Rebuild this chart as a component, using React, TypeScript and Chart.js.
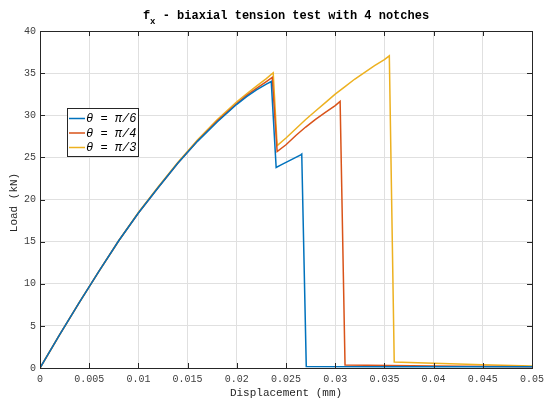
import React, { useEffect, useRef } from 'react';
import { Chart, registerables } from 'chart.js';
Chart.register(...registerables);

// θ = π/6
const xPi6 = [0, 0.002, 0.004, 0.006, 0.008, 0.01, 0.012, 0.014, 0.016, 0.018, 0.02, 0.021, 0.022, 0.023, 0.0235, 0.024, 0.0245, 0.025, 0.0255, 0.026, 0.0265, 0.0266, 0.02706, 0.035, 0.05];
const yPi6 = [0, 3.95, 7.8, 11.5, 15.1, 18.4, 21.4, 24.3, 26.9, 29.2, 31.3, 32.2, 33.0, 33.7, 34.0, 23.8, 24.1, 24.4, 24.7, 25.0, 25.3, 25.4, 0.18, 0.15, 0.15];
// θ = π/4
const xPi4 = [0, 0.002, 0.004, 0.006, 0.008, 0.01, 0.012, 0.014, 0.016, 0.018, 0.02, 0.021, 0.022, 0.023, 0.0236, 0.0241, 0.025, 0.026, 0.027, 0.028, 0.029, 0.03, 0.0305, 0.031, 0.04, 0.05];
const yPi4 = [0, 3.95, 7.8, 11.5, 15.1, 18.4, 21.4, 24.3, 26.95, 29.3, 31.4, 32.35, 33.2, 34.0, 34.5, 25.7, 26.5, 27.6, 28.6, 29.5, 30.35, 31.15, 31.65, 0.35, 0.25, 0.15];
// θ = π/3
const xPi3 = [0, 0.002, 0.004, 0.006, 0.008, 0.01, 0.012, 0.014, 0.016, 0.018, 0.02, 0.021, 0.022, 0.023, 0.0237, 0.0241, 0.025, 0.026, 0.027, 0.028, 0.029, 0.03, 0.031, 0.032, 0.033, 0.034, 0.035, 0.0355, 0.036, 0.04, 0.045, 0.05];
const yPi3 = [0, 3.95, 7.8, 11.5, 15.1, 18.45, 21.5, 24.4, 27.05, 29.45, 31.6, 32.55, 33.45, 34.35, 35.05, 26.4, 27.3, 28.4, 29.5, 30.5, 31.5, 32.5, 33.4, 34.3, 35.1, 35.9, 36.6, 37.05, 0.7, 0.55, 0.4, 0.25];

const seriesLabels = ['π/6', 'π/4', 'π/3'];
const seriesColors = ['#0072BD', '#D95319', '#EDB120'];
const xTickValues = [0, 0.005, 0.01, 0.015, 0.02, 0.025, 0.03, 0.035, 0.04, 0.045, 0.05];
const yTickValues = [0, 5, 10, 15, 20, 25, 30, 35, 40];
const titleMain = 'f';
const titleSub = 'x';
const titleRest = ' - biaxial tension test with 4 notches';
const xTitle = 'Displacement (mm)';
const yTitle = 'Load (kN)';

const FONT = "'Liberation Mono', 'DejaVu Sans Mono', monospace";

const toPoints = (xs: number[], ys: number[]) => xs.map((x, i) => ({ x, y: ys[i] }));

const decorPlugin = {
  id: 'decor',
  afterDraw(chart: any) {
    const { ctx, chartArea } = chart;
    const { left, right, top, bottom } = chartArea;
    const xs = chart.scales.x;
    const ys = chart.scales.y;
    ctx.save();
    // frame
    ctx.strokeStyle = '#262626';
    ctx.lineWidth = 1;
    ctx.strokeRect(Math.round(left) + 0.5, Math.round(top) + 0.5, Math.round(right - left), Math.round(bottom - top));
    // inward ticks
    ctx.beginPath();
    xTickValues.forEach((v) => {
      const px = Math.round(xs.getPixelForValue(v)) + 0.5;
      ctx.moveTo(px, bottom);
      ctx.lineTo(px, bottom - 5);
      ctx.moveTo(px, top);
      ctx.lineTo(px, top + 5);
    });
    yTickValues.forEach((v) => {
      const py = Math.round(ys.getPixelForValue(v)) + 0.5;
      ctx.moveTo(left, py);
      ctx.lineTo(left + 5, py);
      ctx.moveTo(right, py);
      ctx.lineTo(right - 5, py);
    });
    ctx.stroke();

    // title
    const cx = (left + right) / 2;
    const bold = `bold 12px ${FONT}`;
    const subFont = `bold 9px ${FONT}`;
    ctx.fillStyle = '#000';
    ctx.textBaseline = 'middle';
    ctx.font = bold;
    const wMain = ctx.measureText(titleMain).width;
    const wRest = ctx.measureText(titleRest).width;
    ctx.font = subFont;
    const wSub = ctx.measureText(titleSub).width;
    const total = wMain + wSub + wRest;
    let tx = cx - total / 2;
    ctx.textAlign = 'left';
    ctx.font = bold;
    ctx.fillText(titleMain, tx, 16);
    tx += wMain;
    ctx.font = subFont;
    ctx.fillText(titleSub, tx, 22);
    tx += wSub;
    ctx.font = bold;
    ctx.fillText(titleRest, tx, 16);

    // axis titles
    ctx.fillStyle = '#262626';
    ctx.font = `11px ${FONT}`;
    ctx.textAlign = 'center';
    ctx.fillText(xTitle, cx, 393);
    ctx.save();
    ctx.translate(14, (top + bottom) / 2 + 3);
    ctx.rotate(-Math.PI / 2);
    ctx.fillText(yTitle, 0, 0);
    ctx.restore();

    // legend
    const bx = 67.5, by = 108.5, bw = 71, bh = 48;
    ctx.fillStyle = '#fff';
    ctx.fillRect(bx, by, bw, bh);
    ctx.strokeStyle = '#262626';
    ctx.lineWidth = 1;
    ctx.strokeRect(bx, by, bw, bh);
    seriesLabels.forEach((lab, i) => {
      const yy = 118.5 + i * 14.5;
      ctx.strokeStyle = seriesColors[i];
      ctx.lineWidth = 1.5;
      ctx.beginPath();
      ctx.moveTo(69, yy);
      ctx.lineTo(85, yy);
      ctx.stroke();
      ctx.fillStyle = '#000';
      ctx.font = `italic 12px ${FONT}`;
      ctx.textAlign = 'left';
      ctx.fillText('θ = ' + lab, 86, yy + 0.5);
    });
    ctx.restore();
  },
};

export default function App() {
  const ref = useRef<HTMLCanvasElement | null>(null);
  useEffect(() => {
    document.body.style.margin = '0';
    if (!ref.current) return;
    const datasets = [
      [xPi6, yPi6],
      [xPi4, yPi4],
      [xPi3, yPi3],
    ].map(([xs, ys], i) => ({
      label: 'θ = ' + seriesLabels[i],
      data: toPoints(xs, ys),
      borderColor: seriesColors[i],
      backgroundColor: seriesColors[i],
      borderWidth: 1.5,
      pointRadius: 0,
      tension: 0,
      fill: false,
    }));
    const chart = new Chart(ref.current, {
      type: 'line',
      data: { datasets },
      options: {
        responsive: false,
        animation: false,
        layout: { padding: { top: 31, right: 19, left: 0, bottom: 0 } },
        plugins: { legend: { display: false }, title: { display: false }, tooltip: { enabled: false } },
        scales: {
          x: {
            type: 'linear',
            min: 0,
            max: 0.05,
            afterFit: (s: any) => { s.height = 32; },
            grid: { color: '#e0e0e0', drawTicks: false },
            border: { display: false },
            ticks: {
              stepSize: 0.005,
              autoSkip: false,
              maxRotation: 0,
              padding: 5,
              color: '#404040',
              font: { family: FONT, size: 10 },
              callback: (v: any) => String(Number(Number(v).toFixed(4))),
            },
          },
          y: {
            type: 'linear',
            min: 0,
            max: 40,
            afterFit: (s: any) => { s.width = 40; },
            grid: { color: '#e0e0e0', drawTicks: false },
            border: { display: false },
            ticks: {
              stepSize: 5,
              padding: 4,
              color: '#404040',
              font: { family: FONT, size: 10 },
            },
          },
        },
      },
      plugins: [decorPlugin],
    });
    return () => chart.destroy();
  }, []);
  return (
    <div style={{ width: 551, height: 400, background: '#fff' }}>
      <canvas ref={ref} width={551} height={400} />
    </div>
  );
}
